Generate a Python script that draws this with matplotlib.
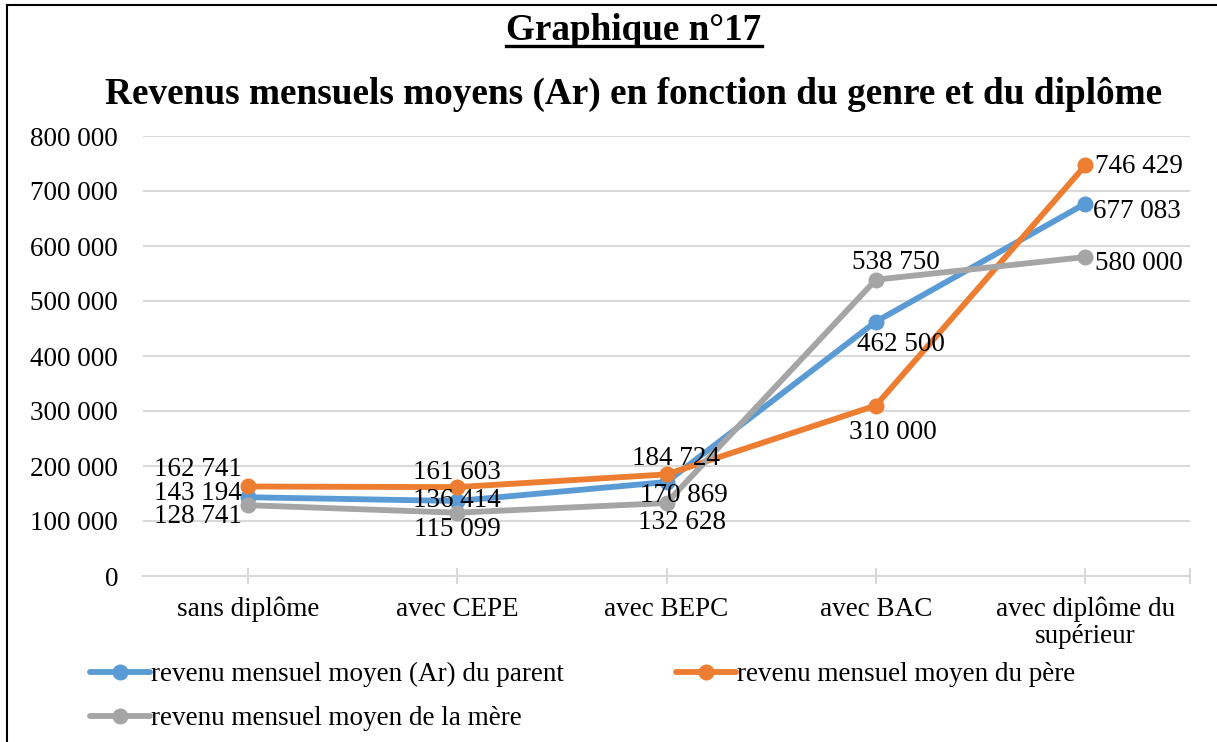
import matplotlib.pyplot as plt
from matplotlib.lines import Line2D

# données
categories = ["sans diplôme", "avec CEPE", "avec BEPC", "avec BAC",
              "avec diplôme du\nsupérieur"]
parent = [143194, 136414, 170869, 462500, 677083]
pere = [162741, 161603, 184724, 310000, 746429]
mere = [128741, 115099, 132628, 538750, 580000]

series_names = ["revenu mensuel moyen (Ar) du parent",
                "revenu mensuel moyen du père",
                "revenu mensuel moyen de la mère"]
yticks = [0, 100000, 200000, 300000, 400000, 500000, 600000, 700000, 800000]

colors = ["#5B9BD5", "#ED7D31", "#A5A5A5"]

# décalages des étiquettes (pixels) : (dx, dy, alignement)
offsets = [
    [(-6, 4, "right"), (0, 0, "center"), (17, -13, "center"), (25, -23, "center"), (8, -8, "left")],
    [(-6, 17, "right"), (0, 15, "center"), (9, 16, "center"), (17, -27, "center"), (10, -1, "left")],
    [(-6, -11, "right"), (0, -17, "center"), (16, -19, "center"), (20, 17, "center"), (10, -7, "left")],
]

plt.rcParams['font.family'] = ['Liberation Serif', 'DejaVu Serif']
fs = 19.5

fig = plt.figure(figsize=(12.17, 7.42), dpi=100)
ax = fig.add_axes([143 / 1217, 1 - 576 / 742, (1190 - 143) / 1217, (576 - 136) / 742])

x = list(range(len(categories)))
lines = []
for vals, col, name, offs in zip([parent, pere, mere], colors, series_names, offsets):
    ln, = ax.plot(x, vals, color=col, lw=4.2, marker="o", ms=10.5, label=name,
                  solid_capstyle="round", zorder=3)
    lines.append(ln)
    for xi, v, (dx, dy, ha) in zip(x, vals, offs):
        ax.annotate(f"{v:,}".replace(",", " "), (xi, v), xytext=(dx, dy),
                    textcoords="offset pixels", ha=ha, va="center",
                    fontsize=fs, color="black", zorder=4)

ax.set_xlim(-0.5, len(categories) - 0.5)
ax.set_ylim(0, 800000)
ax.set_yticks(yticks)
ax.set_yticklabels([f"{v:,}".replace(",", " ") for v in yticks], fontsize=fs)
ax.set_xticks(x + [len(categories) - 0.5])
ax.set_xticklabels(categories + [""], fontsize=fs, linespacing=1.1)
ax.grid(axis="y", color="#D9D9D9", lw=1.5)
ax.set_axisbelow(True)
for s in ["top", "right", "left"]:
    ax.spines[s].set_visible(False)
ax.spines["bottom"].set_color("#D9D9D9")
ax.spines["bottom"].set_linewidth(1.5)
ax.tick_params(axis="y", length=0, pad=18)
ax.tick_params(axis="x", direction="inout", length=12, width=1.5, color="#D9D9D9", pad=9)

# titres
t1 = fig.text(634 / 1217, 1 - 31 / 742, "Graphique n°17", ha="center", va="center",
              fontsize=26.7, fontweight="bold")
fig.text(634 / 1217, 1 - 94 / 742, "Revenus mensuels moyens (Ar) en fonction du genre et du diplôme",
         ha="center", va="center", fontsize=26.8, fontweight="bold")
fig.canvas.draw()
bb = t1.get_window_extent().transformed(fig.transFigure.inverted())
fig.add_artist(Line2D([bb.x0, bb.x1], [bb.y0 + 0.004, bb.y0 + 0.004], color="black", lw=2.4))

# cadre (haut et gauche)
fig.add_artist(Line2D([7 / 1217, 1216 / 1217], [1 - 5 / 742, 1 - 5 / 742], color="black", lw=1.5))
fig.add_artist(Line2D([7 / 1217, 7 / 1217], [1 - 5 / 742, 0], color="black", lw=1.5))

# légende (remplissage par colonnes)
fig.legend([lines[0], lines[2], lines[1]],
           [series_names[0], series_names[2], series_names[1]],
           ncol=2, loc="upper left", bbox_to_anchor=(90 / 1217, 1 - 662 / 742),
           frameon=False, fontsize=fs, handlelength=2.2, handletextpad=0.05,
           columnspacing=4.15, labelspacing=0.7, borderaxespad=0, borderpad=0)

fig.savefig("out.png", dpi=100)
